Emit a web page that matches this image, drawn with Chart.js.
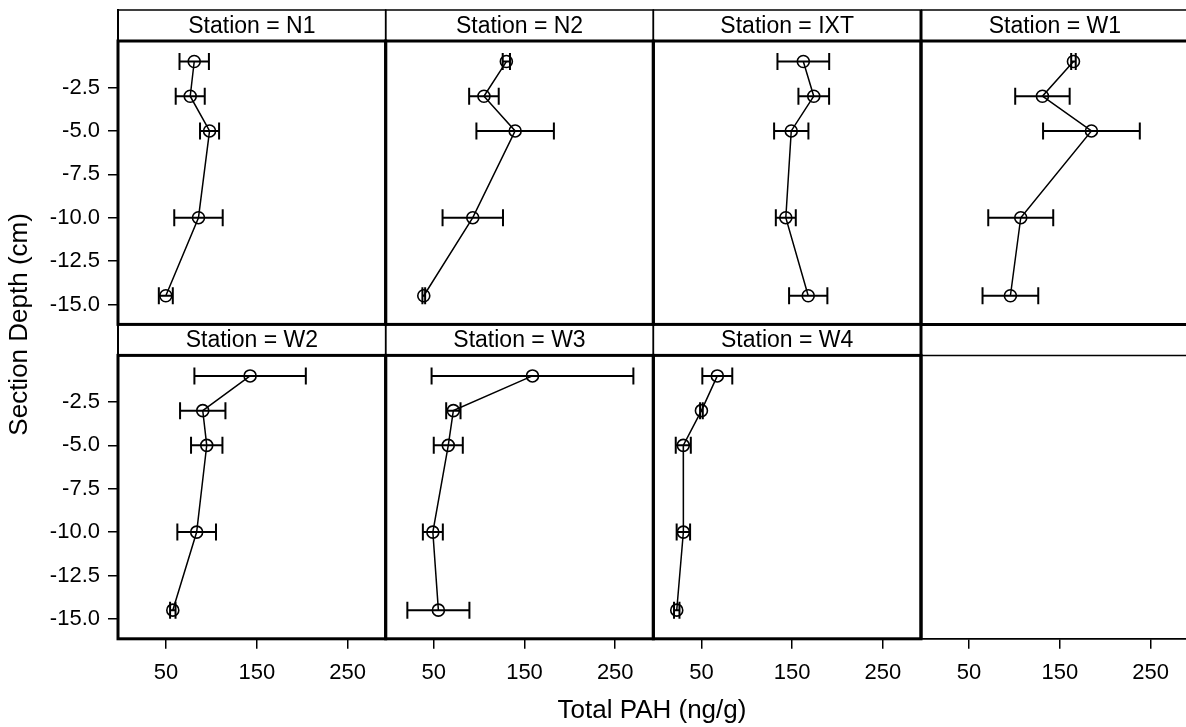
<!DOCTYPE html>
<html>
<head>
<meta charset="utf-8">
<script src="https://cdn.jsdelivr.net/npm/chart.js@4"></script>
<style>
html, body { margin: 0; padding: 0; background: #fff; overflow: hidden; }
#lattice { display: block; }
</style>
</head>
<body>
<canvas id="lattice" width="1186" height="727"></canvas>
<script>
// section depths (cm) shared by every station
const depths = [-1, -3, -5, -10, -14.5];

// mean total PAH (ng/g) and its spread, one pair of arrays per station
const meanN1 = [81, 76.6, 97.9, 85.7, 49.7];
const sdN1 = [16.2, 16, 10.5, 26.7, 7.7];
const meanN2 = [130, 105.3, 139.7, 93, 39];
const sdN2 = [4, 16.3, 42.7, 33.3, 1.5];
const meanIXT = [162.3, 173.8, 149, 143, 167.7];
const sdIXT = [28.5, 16.9, 18.9, 11, 21.1];
const meanW1 = [165, 130.8, 184.8, 106.9, 95.5];
const sdW1 = [2.5, 30, 53.3, 35.8, 30.7];
const meanW2 = [142.6, 90.4, 94.8, 83.7, 57.4];
const sdW2 = [61.4, 25, 17.3, 21.3, 3];
const meanW3 = [158.8, 71.6, 66, 49, 55.1];
const sdW3 = [111.2, 7.9, 16, 11, 34.2];
const meanW4 = [67.5, 50, 30, 30.1, 22.8];
const sdW4 = [16.5, 1.5, 8.3, 7.4, 3];

const stations = ['N1', 'N2', 'IXT', 'W1', 'W2', 'W3', 'W4'];
const xTicks = [50, 150, 250];
const yTicks = [-2.5, -5, -7.5, -10, -12.5, -15];

const means = [meanN1, meanN2, meanIXT, meanW1, meanW2, meanW3, meanW4];
const sds = [sdN1, sdN2, sdIXT, sdW1, sdW2, sdW3, sdW4];

const FONT = "'Liberation Sans', Arial, sans-serif";
const STRIP_H = 31;
const CAP = 8.5;

const datasets = stations.map((name, k) => ({
    label: 'Station = ' + name,
    data: depths.map((d, i) => ({ x: means[k][i], y: d })),
    sd: sds[k],
    xAxisID: 'x' + (k % 4 + 1),
    yAxisID: k < 4 ? 'yTop' : 'yBot',
    showLine: true,
    borderColor: '#000',
    borderWidth: 1.5,
    pointRadius: 6,
    pointBorderWidth: 1.6,
    pointBorderColor: '#000',
    pointBackgroundColor: 'rgba(0,0,0,0)',
    tension: 0
}));

// the last column runs off the right edge of the page, so it is a bit narrower
function xAxis(weight, max) {
    return {
        type: 'linear',
        position: 'bottom',
        stack: 'cols',
        stackWeight: weight,
        min: -3,
        max: max,
        afterBuildTicks: s => { s.ticks = xTicks.map(v => ({ value: v })); },
        afterFit: s => { s.height = 50; s.paddingLeft = 0; s.paddingRight = 0; },
        grid: { display: true, drawOnChartArea: false, drawTicks: true, tickLength: 10, color: '#000', lineWidth: 1.5 },
        border: { display: true, color: '#000', width: 1.5 },
        ticks: { color: '#000', font: { family: FONT, size: 22 }, padding: 11, autoSkip: false, maxRotation: 0 }
    };
}

function yAxis() {
    return {
        type: 'linear',
        position: 'left',
        stack: 'rows',
        stackWeight: 1,
        min: -16.15,
        max: 1.97,
        afterBuildTicks: s => { s.ticks = yTicks.map(v => ({ value: v })); },
        afterFit: s => { s.width = 82.8; s.paddingTop = 0; s.paddingBottom = 0; },
        grid: { display: true, drawOnChartArea: false, drawTicks: true, tickLength: 10, color: '#000', lineWidth: 1.5 },
        border: { display: true, color: '#000', width: 2 },
        ticks: { color: '#000', font: { family: FONT, size: 22 }, padding: 8, autoSkip: false,
            callback: v => v.toFixed(1) }
    };
}

function line(ctx, x0, y0, x1, y1) {
    ctx.beginPath();
    ctx.moveTo(x0, y0);
    ctx.lineTo(x1, y1);
    ctx.stroke();
}

const latticePlugin = {
    id: 'lattice',
    afterDatasetsDraw(chart) {
        const ctx = chart.ctx;
        ctx.save();
        ctx.strokeStyle = '#000';
        ctx.lineWidth = 2;
        chart.data.datasets.forEach(ds => {
            const xs = chart.scales[ds.xAxisID], ys = chart.scales[ds.yAxisID];
            ds.data.forEach((pt, i) => {
                const y = ys.getPixelForValue(pt.y);
                const x0 = xs.getPixelForValue(pt.x - ds.sd[i]);
                const x1 = xs.getPixelForValue(pt.x + ds.sd[i]);
                ctx.beginPath();
                ctx.moveTo(x0, y); ctx.lineTo(x1, y);
                ctx.moveTo(x0, y - CAP); ctx.lineTo(x0, y + CAP);
                ctx.moveTo(x1, y - CAP); ctx.lineTo(x1, y + CAP);
                ctx.stroke();
            });
        });
        ctx.restore();
    },
    afterDraw(chart) {
        const ctx = chart.ctx;
        const half = (chart.scales.x1.right - chart.scales.x1.left) / 2;
        ctx.save();
        ctx.strokeStyle = '#000';
        for (let r = 0; r < 2; r++) {
            for (let c = 0; c < 4; c++) {
                const k = r * 4 + c;
                const xs = chart.scales['x' + (c + 1)];
                const ys = chart.scales[r ? 'yBot' : 'yTop'];
                const L = xs.left, R = xs.right, T = ys.top, B = ys.bottom;
                const S = T + STRIP_H;
                if (c < 3) {
                    ctx.lineWidth = 1.5;
                    ctx.strokeRect(L, T, R - L, B - T);
                    ctx.lineWidth = 3;
                    ctx.strokeRect(L, S, R - L, B - S);
                } else {
                    // right column: its right edge is off the page
                    ctx.lineWidth = 1.5;
                    line(ctx, L, T, R, T);
                    ctx.lineWidth = k < stations.length ? 3 : 1.5;
                    line(ctx, L, S, R, S);
                    line(ctx, L, B, R, B);
                    ctx.lineWidth = 3;
                    line(ctx, L, T, L, B);
                }
                if (k < stations.length) {
                    ctx.fillStyle = '#000';
                    ctx.font = '23px ' + FONT;
                    ctx.textAlign = 'center';
                    ctx.textBaseline = 'middle';
                    ctx.fillText(datasets[k].label, L + half, T + STRIP_H / 2 + 1);
                }
            }
        }
        ctx.restore();
    }
};

new Chart(document.getElementById('lattice'), {
    type: 'scatter',
    data: { datasets: datasets },
    options: {
        responsive: false,
        animation: false,
        layout: { autoPadding: false, padding: { top: 10, left: 0, right: 0, bottom: 0 } },
        scales: {
            x1: xAxis(1, 292), x2: xAxis(1, 292), x3: xAxis(1, 292), x4: xAxis(0.99, 289),
            yBot: yAxis(), yTop: yAxis()
        },
        plugins: {
            legend: { display: false },
            tooltip: { enabled: false },
            title: {
                display: true,
                text: 'Total PAH (ng/g)',
                position: 'bottom',
                fullSize: false,
                color: '#000',
                font: { family: FONT, size: 26, weight: 'normal' },
                padding: { top: 6, bottom: 1 }
            },
            subtitle: {
                display: true,
                text: 'Section Depth (cm)',
                position: 'left',
                fullSize: false,
                color: '#000',
                font: { family: FONT, size: 26, weight: 'normal' },
                padding: { top: 4, bottom: 0 }
            }
        }
    },
    plugins: [latticePlugin]
});
</script>
</body>
</html>
